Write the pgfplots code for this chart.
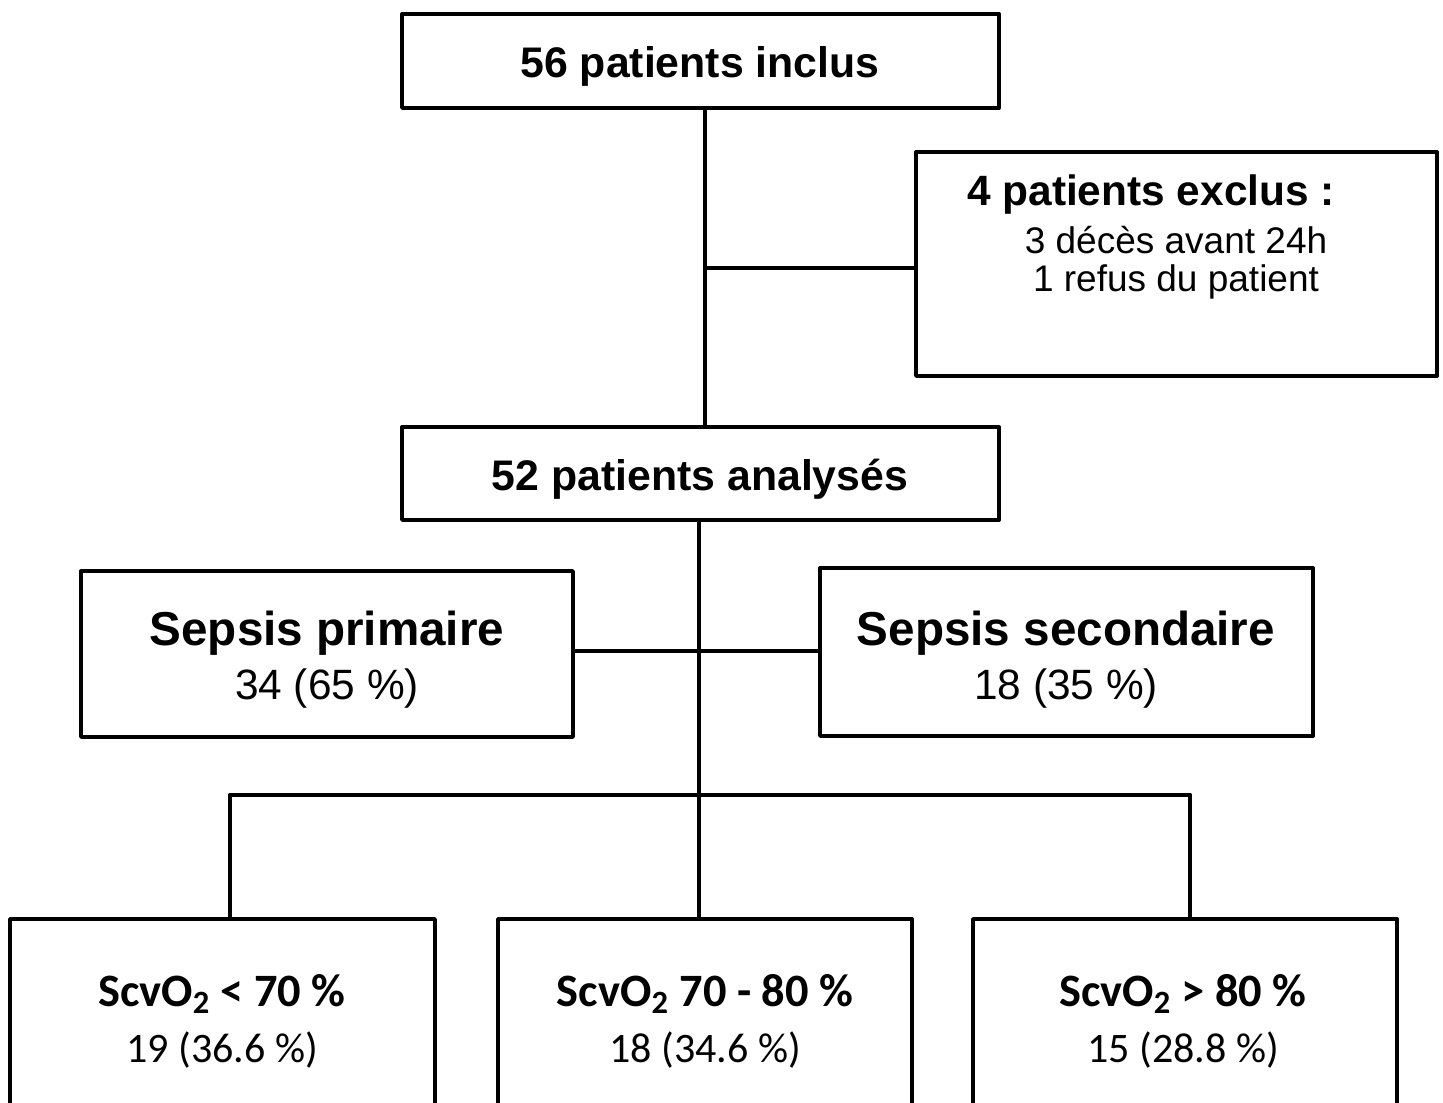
\documentclass[border=0pt]{standalone}
\usepackage{fontspec}
\setmainfont{Liberation Sans}
\newfontfamily\calfont{Carlito}
\usepackage{pgfplots}
\pgfplotsset{compat=1.18}
\pgfplotsset{ln/.style={black, solid, line width=1.9pt, line join=round, line cap=round, mark=none}}
\begin{document}
\begin{tikzpicture}
\begin{axis}[
  scale only axis, width=721.5pt, height=551pt,
  xmin=0, xmax=1443, ymin=0, ymax=1102, y dir=reverse,
  axis line style={draw=none}, xtick=\empty, ytick=\empty,
  clip=true,
]
% boxes
\addplot[ln] coordinates {(402,14)(999,14)(999,108)(402,108)(402,14)};
\addplot[ln] coordinates {(916,152)(1437,152)(1437,376)(916,376)(916,152)};
\addplot[ln] coordinates {(402,427)(999,427)(999,520)(402,520)(402,427)};
\addplot[ln] coordinates {(81,571)(573,571)(573,737)(81,737)(81,571)};
\addplot[ln] coordinates {(820,568)(1313,568)(1313,736)(820,736)(820,568)};
\addplot[ln] coordinates {(435,1140)(435,919)(10,919)(10,1140)};
\addplot[ln] coordinates {(912,1140)(912,919)(498,919)(498,1140)};
\addplot[ln] coordinates {(1397,1140)(1397,919)(973,919)(973,1140)};
% connectors
\addplot[ln] coordinates {(705,108)(705,427)};
\addplot[ln] coordinates {(705,268)(916,268)};
\addplot[ln] coordinates {(699,520)(699,919)};
\addplot[ln] coordinates {(573,651)(820,651)};
\addplot[ln] coordinates {(230,795)(1190,795)};
\addplot[ln] coordinates {(230,795)(230,919)};
\addplot[ln] coordinates {(1190,795)(1190,919)};
% texts
\node[anchor=base, font=\fontsize{21.4}{24}\selectfont\bfseries] at (axis cs:700,77) {56 patients inclus};
\node[anchor=base, font=\fontsize{21.2}{24}\selectfont\bfseries] at (axis cs:1151,205) {4 patients exclus :};
\node[anchor=base, font=\fontsize{18.5}{22}\selectfont] at (axis cs:1176,253) {3 décès avant 24h};
\node[anchor=base, font=\fontsize{18.5}{22}\selectfont] at (axis cs:1176,291) {1 refus du patient};
\node[anchor=base, font=\fontsize{21.4}{24}\selectfont\bfseries] at (axis cs:700,490) {52 patients analysés};
\node[anchor=base, font=\fontsize{23.8}{27}\selectfont\bfseries] at (axis cs:327,645) {Sepsis primaire};
\node[anchor=base, font=\fontsize{21.2}{24}\selectfont] at (axis cs:327,699) {34 (65 \%)};
\node[anchor=base, font=\fontsize{23.8}{27}\selectfont\bfseries] at (axis cs:1066,645) {Sepsis secondaire};
\node[anchor=base, font=\fontsize{21.2}{24}\selectfont] at (axis cs:1066,699) {18 (35 \%)};
\node[anchor=base, font=\calfont\fontsize{23.2}{26}\selectfont\bfseries] at (axis cs:222,1006) {ScvO\textsubscript{2} < 70 \%};
\node[anchor=base, font=\calfont\fontsize{21}{25}\selectfont] at (axis cs:222,1062) {19 (36.6 \%)};
\node[anchor=base, font=\calfont\fontsize{23.2}{26}\selectfont\bfseries] at (axis cs:705,1006) {ScvO\textsubscript{2} 70 - 80 \%};
\node[anchor=base, font=\calfont\fontsize{21}{25}\selectfont] at (axis cs:705,1062) {18 (34.6 \%)};
\node[anchor=base, font=\calfont\fontsize{23.2}{26}\selectfont\bfseries] at (axis cs:1183,1006) {ScvO\textsubscript{2} > 80 \%};
\node[anchor=base, font=\calfont\fontsize{21}{25}\selectfont] at (axis cs:1183,1062) {15 (28.8 \%)};
\end{axis}
\end{tikzpicture}
\end{document}
